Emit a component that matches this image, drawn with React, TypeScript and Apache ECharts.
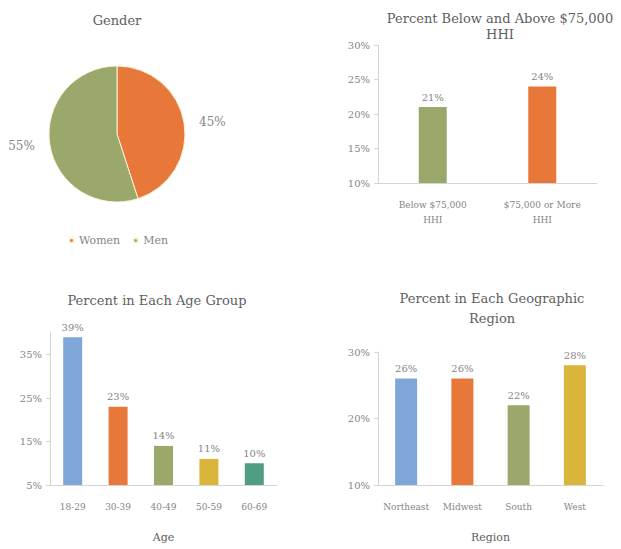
import React, { useEffect, useRef } from "react";
import * as echarts from "echarts";

const genderNames = ["Women", "Men"];
const genderValues = [45, 55];

const incomeCats = ["Below $75,000\nHHI", "$75,000 or More\nHHI"];
const incomeValues = [21, 24];

const ageCats = ["18-29", "30-39", "40-49", "50-59", "60-69"];
const ageValues = [39, 23, 14, 11, 10];

const regionCats = ["Northeast", "Midwest", "South", "West"];
const regionValues = [26, 26, 22, 28];

const GREEN = "#9aa86b";
const ORANGE = "#e8783a";
const BLUE = "#7fa6d9";
const GOLD = "#d9b53c";
const TEAL = "#4f9d83";

const FONT = "DejaVu Serif";
const TITLE_C = "#606060";
const LABEL_C = "#858585";
const AXIS_C = "#d4d4d4";

export default function App() {
  const ref = useRef<HTMLDivElement>(null);
  useEffect(() => {
    if (!ref.current) return;
    const chart = echarts.init(ref.current, undefined, { renderer: "svg" });
    const pct = (v: any) => v + "%";
    const pieColors = [ORANGE, GREEN];
    const yAxisBase = (gridIndex: number, min: number, max: number, interval: number) => ({
      type: "value",
      gridIndex,
      min,
      max,
      interval,
      splitLine: { show: false },
      axisLine: { show: true, lineStyle: { color: AXIS_C } },
      axisTick: { show: true, length: 4, lineStyle: { color: AXIS_C } },
      axisLabel: { formatter: pct, color: LABEL_C, fontFamily: FONT, fontSize: 10, margin: 8, showMaxLabel: gridIndex !== 1 },
    });
    const xAxisBase = (gridIndex: number, data: string[], name?: string) => ({
      type: "category",
      gridIndex,
      data,
      name,
      nameLocation: "middle",
      nameGap: 47,
      nameTextStyle: { color: TITLE_C, fontFamily: FONT, fontSize: 11 },
      axisLine: { show: true, lineStyle: { color: AXIS_C } },
      axisTick: { show: false },
      axisLabel: { color: LABEL_C, fontFamily: FONT, fontSize: 9, margin: 14, lineHeight: 15, interval: 0 },
    });
    const barLabel = { show: true, position: "top", distance: 5, formatter: (p: any) => p.value + "%", color: LABEL_C, fontFamily: FONT, fontSize: 10 };
    const title = (x: number, y: number, text: string, lineHeight: number) => ({
      type: "text",
      x,
      y,
      style: { text, x: 0, y: 0, align: "center", verticalAlign: "middle", fill: TITLE_C, font: `13px "${FONT}"`, lineHeight },
    });
    chart.setOption({
      animation: false,
      textStyle: { fontFamily: FONT },
      graphic: [
        title(117, 20, "Gender", 16),
        title(500, 26, "Percent Below and Above $75,000\nHHI", 16),
        title(157, 300, "Percent in Each Age Group", 16),
        title(492, 308, "Percent in Each Geographic\nRegion", 20),
      ],
      legend: {
        data: genderNames.map((n, i) => ({ name: n, itemStyle: { color: pieColors[i] } })),
        left: 68,
        top: 235,
        padding: 0,
        icon: "circle",
        itemWidth: 5,
        itemHeight: 5,
        itemGap: 12,
        textStyle: { color: LABEL_C, fontFamily: FONT, fontSize: 11 },
      },
      grid: [
        { left: 378, right: 24, top: 45, bottom: 366 },
        { left: 50, right: 344, top: 333, bottom: 64 },
        { left: 378, right: 18, top: 352, bottom: 64 },
      ],
      xAxis: [
        xAxisBase(0, incomeCats),
        xAxisBase(1, ageCats, "Age"),
        xAxisBase(2, regionCats, "Region"),
      ],
      yAxis: [
        yAxisBase(0, 10, 30, 5),
        yAxisBase(1, 5, 40, 10),
        yAxisBase(2, 10, 30, 10),
      ],
      series: [
        {
          type: "pie",
          center: [117, 134],
          radius: 68,
          startAngle: 90,
          clockwise: true,
          label: { show: true, position: "outside", overflow: "none", formatter: (p: any) => p.value + "%", color: LABEL_C, fontFamily: FONT, fontSize: 12 },
          labelLine: { show: false, length: 6, length2: 4 },
          itemStyle: { borderColor: "#fbf3d9", borderWidth: 1 },
          data: genderNames.map((n, i) => ({ name: n, value: genderValues[i], itemStyle: { color: pieColors[i] } })),
        },
        {
          type: "bar",
          xAxisIndex: 0,
          yAxisIndex: 0,
          barWidth: 28,
          label: barLabel,
          data: incomeValues.map((v, i) => ({ value: v, itemStyle: { color: [GREEN, ORANGE][i] } })),
        },
        {
          type: "bar",
          xAxisIndex: 1,
          yAxisIndex: 1,
          barWidth: 19,
          label: barLabel,
          data: ageValues.map((v, i) => ({ value: v, itemStyle: { color: [BLUE, ORANGE, GREEN, GOLD, TEAL][i] } })),
        },
        {
          type: "bar",
          xAxisIndex: 2,
          yAxisIndex: 2,
          barWidth: 22,
          label: barLabel,
          data: regionValues.map((v, i) => ({ value: v, itemStyle: { color: [BLUE, ORANGE, GREEN, GOLD][i] } })),
        },
      ],
    });
    return () => chart.dispose();
  }, []);
  return (
    <div
      ref={ref}
      style={{ position: "absolute", left: 0, top: 0, width: 621, height: 549, background: "#ffffff" }}
    />
  );
}
